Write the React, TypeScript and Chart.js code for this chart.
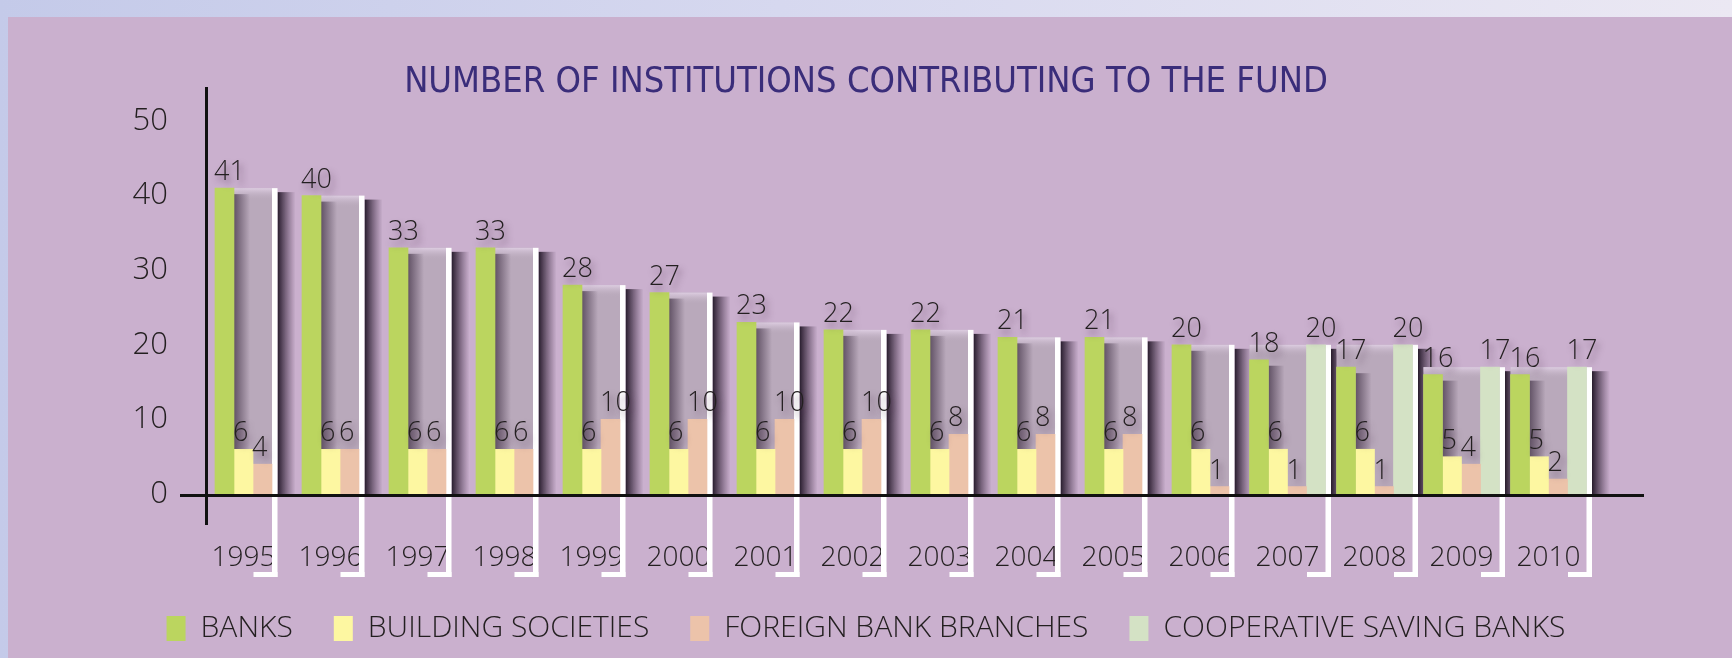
import React, { useEffect, useRef } from "react";
import { Chart, registerables } from "chart.js";

Chart.register(...registerables);

const chartTitle = "NUMBER OF INSTITUTIONS CONTRIBUTING TO THE FUND";
const years = ["1995", "1996", "1997", "1998", "1999", "2000", "2001", "2002", "2003", "2004", "2005", "2006", "2007", "2008", "2009", "2010"];
const banks = [41, 40, 33, 33, 28, 27, 23, 22, 22, 21, 21, 20, 18, 17, 16, 16];
const buildingSocieties = [6, 6, 6, 6, 6, 6, 6, 6, 6, 6, 6, 6, 6, 6, 5, 5];
const foreignBankBranches = [4, 6, 6, 6, 10, 10, 10, 10, 8, 8, 8, 1, 1, 1, 4, 2];
const cooperativeSavingBanks = [null, null, null, null, null, null, null, null, null, null, null, null, 20, 20, 17, 17];
const seriesLabels = ["BANKS", "BUILDING SOCIETIES", "FOREIGN BANK BRANCHES", "COOPERATIVE SAVING BANKS"];
const yMin = 0;
const yMax = 50;
const yStep = 10;

const seriesColors = ["#bbd55f", "#fdf7a1", "#ecc3aa", "#d4e2c5"];
const NUM_FONT = "'Open Sans', 'Noto Sans', sans-serif";
const TITLE_FONT = "'DejaVu Sans Condensed', 'Open Sans', sans-serif";
const TEXT_COLOR = "#231f20";

const decorPlugin = {
  id: "decor",
  beforeDatasetsDraw(chart: any) {
    const ctx = chart.ctx;
    const n = chart.data.labels.length;
    const metas = chart.data.datasets.map((_: any, d: number) => chart.getDatasetMeta(d));
    for (let i = 0; i < n; i++) {
      let left = Infinity, right = -Infinity, top = Infinity, base = 0;
      let green: any = null;
      chart.data.datasets.forEach((ds: any, d: number) => {
        const v = ds.data[i];
        if (v == null) return;
        const el = metas[d].data[i];
        if (!el) return;
        const p = el.getProps(["x", "y", "width", "base"], true);
        left = Math.min(left, p.x - p.width / 2);
        right = Math.max(right, p.x + p.width / 2);
        top = Math.min(top, p.y);
        base = p.base;
        if (d === 0) green = p;
      });
      if (!isFinite(left)) continue;
      const lw = 5.5;
      ctx.save();
      const gs = ctx.createLinearGradient(right + lw, 0, right + lw + 18, 0);
      gs.addColorStop(0, "rgba(25,15,30,0.92)");
      gs.addColorStop(0.5, "rgba(40,25,45,0.45)");
      gs.addColorStop(1, "rgba(60,40,65,0)");
      ctx.fillStyle = gs;
      ctx.fillRect(right + lw, top + 4, 18, base - top - 4);
      ctx.fillStyle = "#b9a9bb";
      ctx.fillRect(left, top, right - left, base - top);
      const gt = ctx.createLinearGradient(0, top, 0, top + 12);
      gt.addColorStop(0, "#ddcde1");
      gt.addColorStop(1, "rgba(185,169,187,0)");
      ctx.fillStyle = gt;
      ctx.fillRect(left, top, right - left, 12);
      if (green) {
        const gx = green.x + green.width / 2;
        const gg = ctx.createLinearGradient(gx, 0, gx + 16, 0);
        gg.addColorStop(0, "rgba(40,25,45,0.6)");
        gg.addColorStop(1, "rgba(40,25,45,0)");
        ctx.fillStyle = gg;
        ctx.fillRect(gx, green.y + 6, 16, base - green.y - 6);
      }
      ctx.fillStyle = "#ffffff";
      ctx.fillRect(right, top, lw, base + 83 - top);
      ctx.fillRect(right + lw - 24, base + 78, 24, 5);
      ctx.restore();
    }
  },
  afterDatasetsDraw(chart: any) {
    const ctx = chart.ctx;
    const area = chart.chartArea;
    ctx.save();
    ctx.font = `300 27px ${NUM_FONT}`;
    ctx.textAlign = "left";
    ctx.textBaseline = "alphabetic";
    ctx.fillStyle = TEXT_COLOR;
    ctx.shadowColor = "rgba(70,40,70,0.55)";
    ctx.shadowBlur = 6;
    ctx.shadowOffsetX = 3;
    ctx.shadowOffsetY = 5;
    chart.data.datasets.forEach((ds: any, d: number) => {
      const meta = chart.getDatasetMeta(d);
      ds.data.forEach((v: any, i: number) => {
        if (v == null || v === 0) return;
        const el = meta.data[i];
        const p = el.getProps(["x", "y", "width"], true);
        ctx.fillText(String(v), p.x - p.width / 2 - 1, p.y - 8);
      });
    });
    ctx.restore();
    const y0 = chart.scales.y.getPixelForValue(0);
    ctx.save();
    ctx.strokeStyle = "#111111";
    ctx.lineWidth = 3;
    ctx.beginPath();
    ctx.moveTo(area.left - 20, y0 + 1.5);
    ctx.lineTo(area.right + 52, y0 + 1.5);
    ctx.moveTo(area.left + 6.5, area.top - 34);
    ctx.lineTo(area.left + 6.5, area.bottom + 31);
    ctx.stroke();
    ctx.restore();
  },
};

export default function App() {
  const ref = useRef<HTMLCanvasElement | null>(null);
  useEffect(() => {
    if (!ref.current) return;
    const chart = new Chart(ref.current, {
      type: "bar",
      data: {
        labels: years,
        datasets: [
          { label: seriesLabels[0], data: banks, backgroundColor: seriesColors[0] },
          { label: seriesLabels[1], data: buildingSocieties, backgroundColor: seriesColors[1] },
          { label: seriesLabels[2], data: foreignBankBranches, backgroundColor: seriesColors[2] },
          { label: seriesLabels[3], data: cooperativeSavingBanks as any, backgroundColor: seriesColors[3] },
        ],
      },
      options: {
        responsive: false,
        animation: false,
        devicePixelRatio: 1,
        events: [],
        layout: { padding: { left: 10, right: 10, top: 0, bottom: 4.5 } },
        datasets: {
          bar: { barThickness: 19, skipNull: true, borderWidth: 0 },
        } as any,
        scales: {
          x: {
            grid: { display: false, drawTicks: false },
            border: { display: false },
            ticks: {
              color: TEXT_COLOR,
              font: { family: NUM_FONT, size: 28, weight: "300" as any },
              padding: 47.2,
              maxRotation: 0,
              autoSkip: false,
            },
            afterFit: (s: any) => { s.height = 78.5; },
          },
          y: {
            min: yMin,
            max: yMax,
            grid: { display: false, drawTicks: false },
            border: { display: false },
            ticks: {
              stepSize: yStep,
              color: TEXT_COLOR,
              font: { family: NUM_FONT, size: 31, weight: "300" as any },
              padding: 32,
            },
            afterFit: (s: any) => { s.width = 190; },
          },
          yRight: {
            position: "right",
            display: true,
            grid: { display: false, drawTicks: false },
            border: { display: false },
            ticks: { display: false },
            afterFit: (s: any) => { s.width = 130; },
          },
        },
        plugins: {
          title: {
            display: true,
            text: chartTitle,
            color: "#3a2d7a",
            font: { family: TITLE_FONT, size: 36, weight: "normal" as any, lineHeight: 1.2 },
            padding: { top: 61.4, bottom: 16.4 },
          },
          legend: {
            position: "bottom",
            labels: {
              boxWidth: 19,
              boxHeight: 25,
              padding: 41,
              color: TEXT_COLOR,
              font: { family: NUM_FONT, size: 30, weight: "300" as any },
            },
          },
          tooltip: { enabled: false },
        },
      },
      plugins: [decorPlugin],
    });
    return () => chart.destroy();
  }, []);

  return (
    <div
      style={{
        position: "fixed",
        left: 0,
        top: 0,
        width: 1732,
        height: 658,
        background: "linear-gradient(to right, #c4cae9 0%, #d6d8ef 45%, #ebe8f3 100%)",
        overflow: "hidden",
      }}
    >
      <div style={{ position: "absolute", left: 8, top: 17, right: 0, bottom: 0, background: "#cab0ce" }} />
      <canvas ref={ref} width={1732} height={658} style={{ position: "absolute", left: 0, top: 0, width: 1732, height: 658 }} />
    </div>
  );
}
